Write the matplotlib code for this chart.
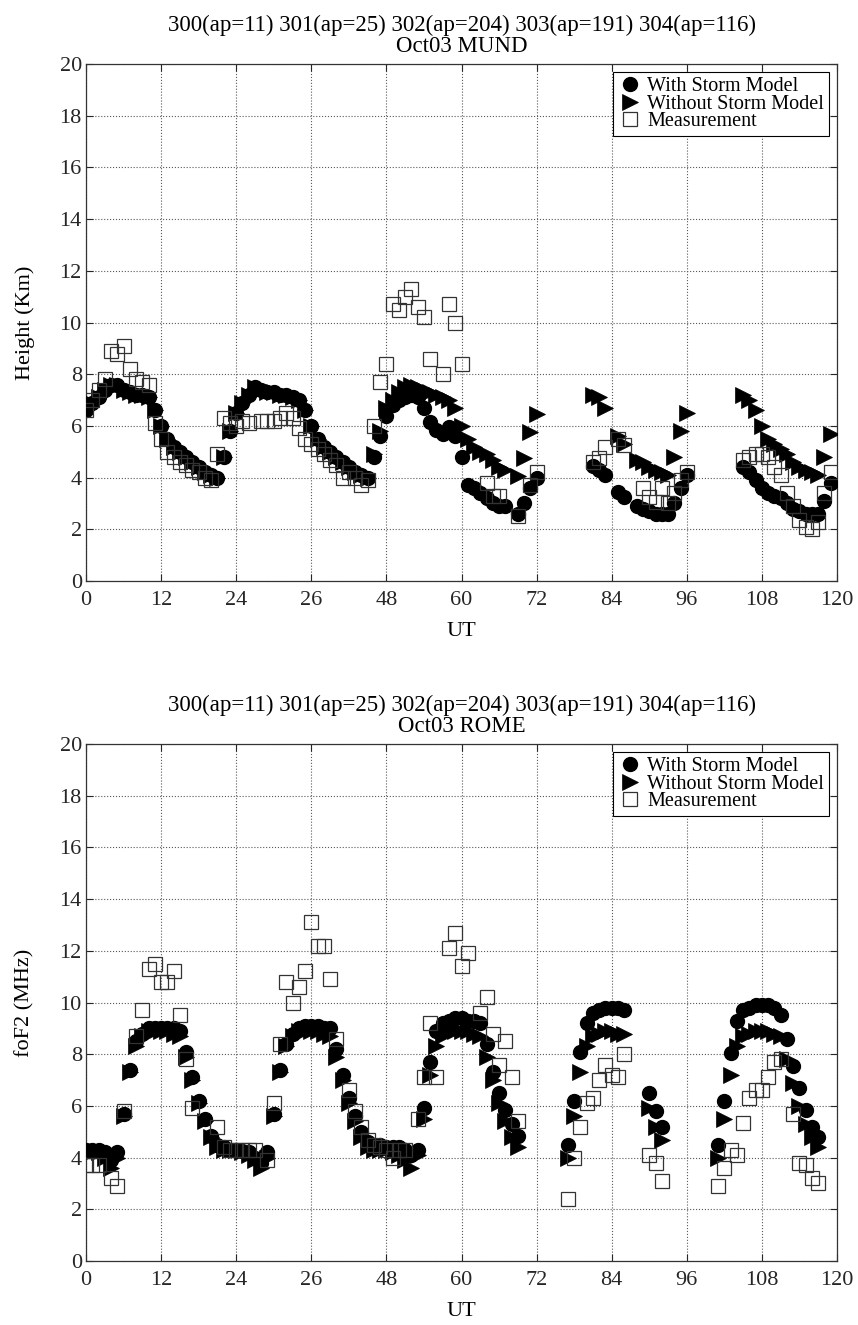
import numpy as np
import matplotlib
matplotlib.use('Agg')
import matplotlib.pyplot as plt

nan = np.nan

# x tick labels as printed on the original (note "26" at 36 h)
ut_ticks = [0, 12, 24, 36, 48, 60, 72, 84, 96, 108, 120]
ut_labels = ['0', '12', '24', '26', '48', '60', '72', '84', '96', '108', '120']
title_days = '300(ap=11) 301(ap=25) 302(ap=204) 303(ap=191) 304(ap=116)'

### MUND (height)
mund_hours = list(range(0, 73)) + list(range(81, 97)) + list(range(105, 120))
mund_storm = [6.6, 6.9, 7.1, 7.4, 7.6, 7.6, 7.4, 7.3, 7.2, 7.2, 7.1, 6.6, 6.0, 5.5, 5.2, 5.0, 4.8, 4.6, 4.4, 4.2, 4.1, 4.0, 4.8, 5.8,
              6.5, 6.9, 7.2, 7.5, 7.4, 7.3, 7.3, 7.2, 7.2, 7.1, 7.0, 6.6, 6.0, 5.5, 5.2, 5.0, 4.8, 4.6, 4.4, 4.2, 4.1, 4.0, 4.8, 5.6,
              6.4, 6.8, 7.0, 7.1, 7.2, 7.1, 6.7, 6.15, 5.85, 5.7, 5.95, 5.6, 4.8, 3.7, 3.6, 3.4, 3.2, 3.0, 2.9, 2.9, nan, 2.6, 3.0, 3.6, 4.0,
              4.45, 4.3, 4.1, nan, 3.45, 3.25, nan, 2.9, 2.8, 2.7, 2.6, 2.6, 2.6, 3.0, 3.6, 4.1,
              4.4, 4.2, 3.9, 3.6, 3.4, 3.3, 3.2, 3.0, 2.8, 2.7, 2.6, 2.6, 2.6, 3.1, 3.8]
mund_nostorm = [6.6, 6.9, 7.1, 7.4, 7.6, 7.6, 7.4, 7.3, 7.2, 7.2, 7.1, 6.6, 6.0, 5.5, 5.2, 5.0, 4.8, 4.6, 4.4, 4.2, 4.1, 4.0, 4.8, 5.8,
                6.5, 6.9, 7.2, 7.5, 7.4, 7.3, 7.3, 7.2, 7.2, 7.1, 7.0, 6.6, 6.0, 5.5, 5.2, 5.0, 4.8, 4.6, 4.4, 4.2, 4.1, 4.0, 4.9, 5.8,
                6.7, 7.0, 7.3, 7.5, 7.6, 7.5, 7.4, 7.3, 7.2, 7.1, 7.0, 6.7, 6.0, 5.5, 5.2, 5.0, 4.9, 4.7, 4.4, 4.3, nan, 4.05, 4.75, 5.75, 6.45,
                7.2, 7.1, 6.7, nan, 5.6, 5.3, nan, 4.7, 4.6, 4.4, 4.3, 4.2, 4.1, 4.8, 5.8, 6.5,
                7.2, 7.0, 6.6, 6.0, 5.5, 5.3, 5.1, 4.9, 4.6, 4.4, 4.3, 4.2, 4.1, 4.8, 5.7]
mund_meas_hours = (list(range(0, 27)) + list(range(28, 56)) + [57, 58, 59, 60, 64, 65, 66, 69, 71, 72]
                   + [81, 82, 83, 85, 86] + list(range(89, 97)) + list(range(105, 120)))
mund_meas = [6.6, 7.0, 7.4, 7.8, 8.9, 8.8, 9.1, 8.2, 7.8, 7.7, 7.6, 6.1, 5.5, 5.0, 4.8, 4.6, 4.5, 4.3, 4.2, 4.0, 3.9, 4.9, 6.3, 6.1, 6.0, 6.2, 6.1,
             6.2, 6.2, 6.2, 6.3, 6.5, 6.3, 5.9, 5.5, 5.3, 5.1, 4.9, 4.7, 4.5, 4.0, 4.2, 4.0, 3.7, 3.9, 6.0, 7.7, 8.4, 10.7, 10.5, 11.0, 11.3, 10.6, 10.2, 8.6,
             8.0, 10.7, 10.0, 8.4, 3.8, 3.3, 3.3, 2.5, 3.7, 4.2,
             4.6, 4.75, 5.2, 5.5, 5.25, 3.6, 3.25, 3.05, 3.6, 3.0, 3.4, 3.9, 4.2,
             4.7, 4.8, 4.9, 4.9, 4.8, 4.4, 4.1, 3.4, 2.9, 2.35, 2.1, 2.0, 2.3, 3.4, 4.2]

### ROME (foF2)
rome_hours = list(range(0, 70)) + list(range(77, 87)) + [90, 91, 92] + list(range(101, 118))
rome_storm = [4.3, 4.3, 4.3, 4.2, 3.9, 4.2, 5.7, 7.4, 8.5, 8.8, 9.0, 9.0, 9.0, 9.0, 9.0, 8.9, 8.1, 7.1, 6.2, 5.5, 4.85, 4.5, 4.4, 4.3,
              4.3, 4.25, 4.2, 4.0, 3.8, 4.2, 5.7, 7.4, 8.4, 8.8, 9.0, 9.1, 9.1, 9.1, 9.0, 9.0, 8.2, 7.2, 6.3, 5.6, 5.0, 4.6, 4.5, 4.5,
              4.4, 4.4, 4.4, 4.3, 4.1, 4.3, 5.9, 7.7, 8.9, 9.2, 9.3, 9.4, 9.4, 9.3, 9.3, 9.2, 8.4, 7.3, 6.5, 5.85, 5.3, 4.85,
              4.5, 6.2, 8.1, 9.2, 9.6, 9.7, 9.8, 9.8, 9.8, 9.7,
              6.5, 5.8, 5.2,
              4.5, 6.2, 8.05, 9.3, 9.7, 9.8, 9.9, 9.9, 9.9, 9.8, 9.5, 8.6, 7.55, 6.7, 5.85, 5.2, 4.8]
rome_nostorm = [4.2, 4.2, 4.2, 4.0, 3.6, 4.0, 5.6, 7.3, 8.3, 8.7, 8.9, 8.9, 8.9, 8.9, 8.8, 8.7, 7.9, 7.0, 6.1, 5.4, 4.8, 4.4, 4.3, 4.3,
                4.3, 4.2, 4.1, 3.9, 3.6, 4.0, 5.6, 7.3, 8.3, 8.7, 8.9, 8.9, 8.9, 8.9, 8.8, 8.7, 7.9, 7.0, 6.1, 5.4, 4.8, 4.4, 4.3, 4.3,
                4.3, 4.2, 4.1, 3.9, 3.6, 4.1, 5.5, 7.2, 8.3, 8.7, 8.9, 8.9, 8.9, 8.9, 8.8, 8.7, 7.9, 7.0, 6.1, 5.4, 4.8, 4.4,
                4.0, 5.6, 7.3, 8.3, 8.7, 8.8, 8.9, 8.9, 8.8, 8.8,
                5.9, 5.2, 4.7,
                4.0, 5.5, 7.2, 8.3, 8.7, 8.8, 8.9, 8.9, 8.9, 8.8, 8.7, 7.8, 6.9, 6.0, 5.3, 4.8, 4.4]
rome_meas_hours = ([0, 1, 2, 4, 5, 6] + list(range(8, 18)) + list(range(21, 28)) + list(range(29, 41))
                   + list(range(42, 52)) + [53, 54, 55, 56, 58, 59, 60, 61] + list(range(63, 70))
                   + list(range(77, 87)) + [90, 91, 92] + list(range(101, 112)) + list(range(113, 118)))
rome_meas = [3.7, 3.7, 3.7, 3.2, 2.9, 5.8,
             8.7, 9.7, 11.3, 11.5, 10.8, 10.8, 11.2, 9.5, 7.8, 5.9,
             5.2, 4.4, 4.3, 4.3, 4.3, 4.3, 4.3,
             3.9, 6.1, 8.4, 10.8, 10.0, 10.6, 11.2, 13.1, 12.2, 12.2, 10.9, 8.6,
             6.6, 5.8, 5.2, 4.7, 4.5, 4.4, 4.3, 4.0, 4.3, 4.3,
             5.5, 7.1, 9.2, 7.1, 12.1, 12.7, 11.4, 11.9,
             9.6, 10.2, 8.8, 7.6, 8.5, 7.1, 5.4,
             2.4, 4.0, 5.2, 6.1, 6.3, 7.0, 7.6, 7.2, 7.1, 8.0,
             4.1, 3.8, 3.1,
             2.9, 3.6, 4.3, 4.1, 5.35, 6.3, 6.6, 6.6, 7.1, 7.7, 7.8,
             5.7, 3.8, 3.7, 3.2, 3.0]


def draw_panel(ax, hours, storm, nostorm, meas_h, meas, ylabel, station):
    ax.plot(hours, nostorm, '>', color='k', ms=12, mec='k', mew=0.5, ls='none',
            label='Without Storm Model', zorder=3)
    ax.plot(hours, storm, 'o', color='k', ms=10, mec='k', ls='none',
            label='With Storm Model', zorder=4)
    ax.plot(meas_h, meas, 's', mfc='none', mec='0.2', mew=0.9, ms=9.4, ls='none',
            label='Measurement', zorder=5)

    ax.set_xlim(0, 120)
    ax.set_ylim(0, 20)
    ax.set_xticks(ut_ticks)
    ax.set_xticklabels(ut_labels)
    ax.set_yticks(np.arange(0, 21, 2))
    ax.grid(True, ls=':', color='0.35', lw=0.8)
    ax.tick_params(direction='in', top=True, right=True, length=5, width=0.8,
                   labelsize=16, colors='0.15')
    ax.tick_params(axis='x', pad=7)
    ax.tick_params(axis='y', pad=3)
    for sp in ax.spines.values():
        sp.set_color('0.2')
        sp.set_linewidth(0.9)

    ax.set_xlabel('UT', fontsize=16, labelpad=9)
    ax.set_ylabel(ylabel, fontsize=16, labelpad=18)
    ax.set_title(title_days + '\n' + 'Oct03 ' + station, fontsize=16.5,
                 linespacing=0.95, pad=9)

    h, l = ax.get_legend_handles_labels()
    order = [1, 0, 2]
    leg = ax.legend([h[i] for i in order], [l[i] for i in order], loc='upper right',
                    fontsize=14.5, labelspacing=-0.08, handlelength=1.2,
                    handletextpad=0.25, borderpad=0.25, borderaxespad=0.4,
                    fancybox=False, framealpha=1)
    leg.get_frame().set_edgecolor('k')
    leg.get_frame().set_linewidth(0.8)


if __name__ == '__main__':
    plt.rcParams['font.family'] = ['Liberation Serif', 'DejaVu Serif']

    fig = plt.figure(figsize=(8.58, 13.25), dpi=100)
    W, H = 858.0, 1325.0
    ax1 = fig.add_axes([86 / W, (H - 581) / H, 751 / W, 517 / H])
    ax2 = fig.add_axes([86 / W, (H - 1261) / H, 751 / W, 517 / H])

    draw_panel(ax1, mund_hours, mund_storm, mund_nostorm, mund_meas_hours, mund_meas,
               'Height (Km)', 'MUND')
    draw_panel(ax2, rome_hours, rome_storm, rome_nostorm, rome_meas_hours, rome_meas,
               'foF2 (MHz)', 'ROME')

    fig.savefig('out.png', dpi=100)
